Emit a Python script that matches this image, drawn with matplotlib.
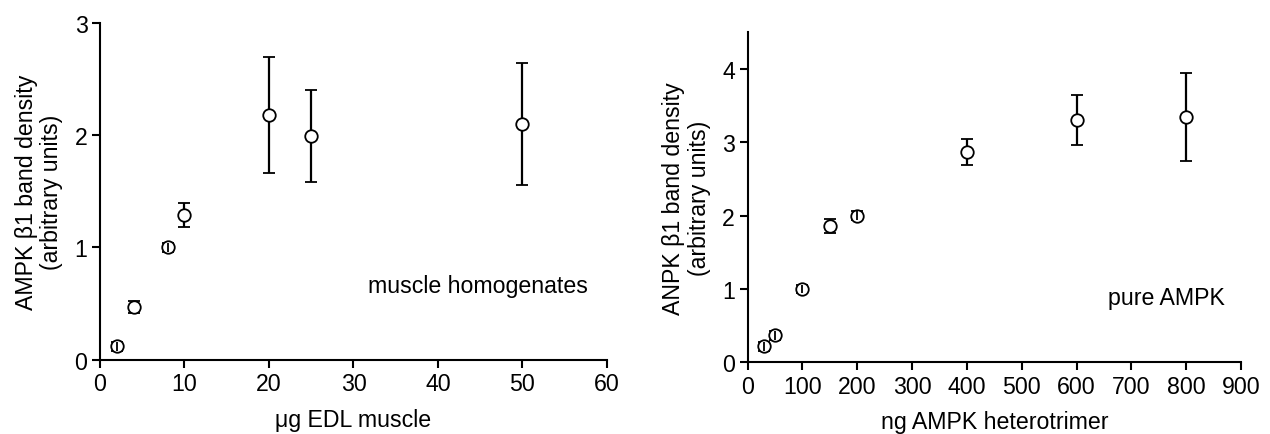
import matplotlib
matplotlib.use("Agg")
import matplotlib.pyplot as plt
import numpy as np

plt.rcParams['font.family'] = ['Liberation Sans', 'DejaVu Sans']

# Left panel: muscle homogenates
left_x = [2, 4, 8, 10, 20, 25, 50]
left_y = [0.12, 0.47, 1.00, 1.29, 2.18, 1.99, 2.10]
left_err = [0.04, 0.056, 0.04, 0.11, 0.52, 0.41, 0.54]
left_xticks = [0, 10, 20, 30, 40, 50, 60]
left_yticks = [0, 1, 2, 3]

# Right panel: pure AMPK
right_x = [30, 50, 100, 150, 200, 400, 600, 800]
right_y = [0.22, 0.37, 1.00, 1.86, 2.00, 2.87, 3.31, 3.35]
right_err = [0.06, 0.06, 0.06, 0.09, 0.06, 0.18, 0.34, 0.60]
right_xticks = [0, 100, 200, 300, 400, 500, 600, 700, 800, 900]
right_yticks = [0, 1, 2, 3, 4]

fig = plt.figure(figsize=(12.7, 4.35), dpi=100)
axL = fig.add_axes([0.0787, 0.1708, 0.3992, 0.774])
axR = fig.add_axes([0.5886, 0.1648, 0.3886, 0.7586])

FS = 16.7
MS = 9


def draw(ax, x, y, err, thresh):
    x = np.array(x); y = np.array(y); err = np.array(err)
    ax.errorbar(x, y, yerr=err, fmt='o', mfc='white', mec='black', mew=1.3,
                ms=MS, ecolor='black', elinewidth=1.6, capsize=4, capthick=1.6,
                zorder=3)
    small = err < thresh
    if small.any():
        ax.errorbar(x[small], y[small], yerr=err[small], fmt='none',
                    ecolor='black', elinewidth=1.3, capsize=0, zorder=5)


def style(ax):
    for s in ['top', 'right']:
        ax.spines[s].set_visible(False)
    for s in ['left', 'bottom']:
        ax.spines[s].set_linewidth(1.5)
    ax.tick_params(direction='out', length=6, width=1.5, labelsize=FS, pad=3)


draw(axL, left_x, left_y, left_err, 0.05)
style(axL)
axL.set_xlim(0, 60)
axL.set_ylim(0, 3)
axL.set_xticks(left_xticks)
axL.set_yticks(left_yticks)
axL.set_xlabel('\u03bcg EDL muscle', fontsize=FS, labelpad=9)
axL.set_ylabel('AMPK \u03b21 band density\n(arbitrary units)', fontsize=FS, labelpad=8,
               linespacing=1.15)
axL.text(31.7, 0.66, 'muscle homogenates', fontsize=FS, ha='left', va='center')

draw(axR, right_x, right_y, right_err, 0.078)
style(axR)
axR.set_xlim(0, 900)
axR.set_ylim(0, 4.5)
axR.set_xticks(right_xticks)
axR.set_yticks(right_yticks)
axR.set_xlabel('ng AMPK heterotrimer', fontsize=FS, labelpad=9)
axR.set_ylabel('ANPK \u03b21 band density\n(arbitrary units)', fontsize=FS, labelpad=8,
               linespacing=1.15)
axR.text(658, 0.88, 'pure AMPK', fontsize=FS, ha='left', va='center')

fig.savefig('out.png', dpi=100)
